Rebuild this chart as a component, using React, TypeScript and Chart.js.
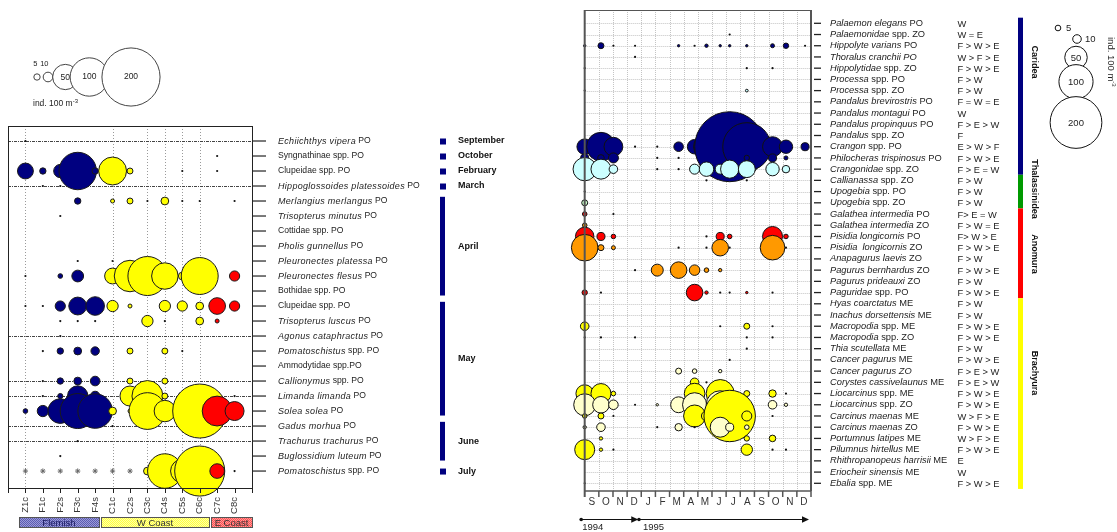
import { useEffect, useRef } from "react";
import { Chart, registerables } from "chart.js";

Chart.register(...registerables);

const FONT = '"Liberation Sans", Arial, sans-serif';
const INK = "#222";
const T = 0.3; // trace catch, drawn as a dot

// ---------- Fish larvae per station ----------
const stations = ["Z1c", "F1c", "F2s", "F3c", "F4s", "C1c", "C2s", "C3c", "C4s", "C5s", "C6c", "C7c", "C8c"];
const stationCoast = ["F", "F", "F", "F", "F", "W", "W", "W", "W", "W", "W", "E", "E"];
const coastColors: Record<string, string> = { F: "#000080", W: "#FFFF00", E: "#FF0000" };
const coastCodes = ["F", "W", "E"];
const coastNames = ["Flemish", "W Coast", "E Coast"];

const fishTaxa: [string, string][] = [
  ["Echiichthys vipera", " PO"],
  ["", "Syngnathinae spp. PO"],
  ["", "Clupeidae spp. PO"],
  ["Hippoglossoides platessoides", " PO"],
  ["Merlangius merlangus", " PO"],
  ["Trisopterus minutus", " PO"],
  ["", "Cottidae spp. PO"],
  ["Pholis gunnellus", " PO"],
  ["Pleuronectes platessa", " PO"],
  ["Pleuronectes flesus", " PO"],
  ["", "Bothidae spp. PO"],
  ["", "Clupeidae spp. PO"],
  ["Trisopterus luscus", " PO"],
  ["Agonus cataphractus", " PO"],
  ["Pomatoschistus", " spp. PO"],
  ["", "Ammodytidae spp.PO"],
  ["Callionymus", " spp. PO"],
  ["Limanda limanda", " PO"],
  ["Solea solea", " PO"],
  ["Gadus morhua", " PO"],
  ["Trachurus trachurus", " PO"],
  ["Buglossidium luteum", " PO"],
  ["Pomatoschistus", " spp. PO"],
];

// ind. 100 m-3, one value per station (Z1c ... C8c)
const fishAbundance: number[][] = [
  [T, 0, 0, 0, 0, 0, 0, 0, 0, 0, 0, 0, 0],
  [0, 0, 0, 0, 0, 0, 0, 0, 0, 0, 0, T, 0],
  [23, 5, 17, 96, 5, 59, 4.5, 0, 0, T, 0, T, 0],
  [0, T, T, 0, 0, 0, 0, 0, 0, 0, 0, 0, 0],
  [0, 0, 0, 5, 0, 2.3, 4.5, T, 7, T, T, 0, T],
  [0, 0, T, 0, 0, 0, 0, 0, 0, 0, 0, 0, 0],
  [0, 0, 0, 0, 0, 0, 0, 0, 0, 0, 0, 0, 0],
  [0, 0, 0, 0, 0, 0, 0, 0, 0, 0, 0, 0, 0],
  [0, 0, 0, T, 0, T, 0, 0, 0, 0, T, 0, 0],
  [T, 0, 3, 14, 0, 23, 72, 103, 54, 7, 94, 0, 11],
  [0, 0, 0, 0, 0, 0, 0, 0, 0, 0, 0, 0, 0],
  [T, T, 11, 28, 30, 13, 2.3, 0, 13, 11, 7, 25, 11],
  [0, 0, T, T, T, 0, 0, 13, T, 0, 7, 2.3, 0],
  [0, 0, T, 0, 0, 0, 0, 0, 0, 0, 0, 0, 0],
  [0, T, 5, 7, 8, 0, 4.5, 0, 4.5, T, 0, 0, 0],
  [0, 0, 0, 0, 0, 0, 0, 0, 0, 0, 0, 0, 0],
  [0, T, 5, 7, 10, 0, 4.5, 0, 4.5, 0, 0, 0, 0],
  [0, T, 3.5, 35, 10, 0, 34, 70, 4.5, 7, 4.5, 0, T],
  [3, 13, 48, 86, 84, 7, 2.3, 93, 38, 13, 177, 66, 31],
  [0, 0, 0, 0, 0, T, 0, 0, 0, 0, 0, 0, 0],
  [0, 0, 0, T, 0, 0, 0, 0, 0, 0, 0, 0, 0],
  [0, 0, T, 0, 0, 0, 0, 0, 0, 0, 0, 0, 0],
  [0, 0, 0, 0, 0, 0, 0, 7, 84, 44, 156, 20, T],
];
const fishUnsampledRow = 23;
const fishUnsampledStations = ["Z1c", "F1c", "F2s", "F3c", "F4s", "C1c", "C2s"];

const fishMonthNames = ["September", "October", "February", "March", "April", "May", "June", "July"];
const fishMonthFirstRow = [1, 2, 3, 4, 5, 12, 20, 23];
const fishMonthLastRow = [1, 2, 3, 4, 11, 19, 22, 23];
const fishDividerRows = [1, 4, 14, 17, 18, 20, 21];
const fishGridStations = ["Z1c", "C1c", "C3c", "C4s", "C5s", "C6c"];

// ---------- Decapod larvae through time ----------
// sampling dates in months since 1 September 1994
const sampleMonths = [0, 1.15, 2.03, 3.56, 5.13, 6.64, 7.77, 8.61, 9.58, 10.25, 11.46, 13.28, 14.23, 15.58];
const monthLetters = ["S", "O", "N", "D", "J", "F", "M", "A", "M", "J", "J", "A", "S", "O", "N", "D"];
const years = ["1994", "1995"];
const yearStartMonth = [0, 4];
const yearEndMonth = [4, 16];

const decapodTaxa: [string, string][] = [
  ["Palaemon elegans", " PO"],
  ["Palaemonidae", " spp. ZO"],
  ["Hippolyte varians", " PO"],
  ["Thoralus cranchii PO", ""],
  ["Hippolytidae", " spp. ZO"],
  ["Processa", " spp. PO"],
  ["Processa", " spp. ZO"],
  ["Pandalus brevirostris", " PO"],
  ["Pandalus montagui", " PO"],
  ["Pandalus propinquus", " PO"],
  ["Pandalus", " spp. ZO"],
  ["Crangon", " spp. PO"],
  ["Philocheras trispinosus", " PO"],
  ["Crangonidae", " spp. ZO"],
  ["Callianassa", " spp. ZO"],
  ["Upogebia", " spp. PO"],
  ["Upogebia", " spp. ZO"],
  ["Galathea intermedia", " PO"],
  ["Galathea intermedia", " ZO"],
  ["Pisidia longicornis", " PO"],
  ["Pisidia  longicornis", " ZO"],
  ["Anapagurus laevis", " ZO"],
  ["Pagurus bernhardus", " ZO"],
  ["Pagurus prideauxi", " ZO"],
  ["Paguridae", " spp. PO"],
  ["Hyas coarctatus", " ME"],
  ["Inachus dorsettensis", " ME"],
  ["Macropodia", " spp. ME"],
  ["Macropodia", " spp. ZO"],
  ["Thia scutellata", " ME"],
  ["Cancer pagurus", " ME"],
  ["Cancer pagurus ZO", ""],
  ["Corystes cassivelaunus", " ME"],
  ["Liocarcinus", " spp. ME"],
  ["Liocarcinus", " spp. ZO"],
  ["Carcinus maenas", " ME"],
  ["Carcinus maenas", " ZO"],
  ["Portumnus latipes", " ME"],
  ["Pilumnus hirtellus", " ME"],
  ["Rhithropanopeus harrisii", " ME"],
  ["Eriocheir sinensis", " ME"],
  ["Ebalia", " spp. ME"],
];
const decapodRanking = [
  "W", "W = E", "F > W > E", "W > F > E", "F > W > E", "F > W", "F > W", "F = W = E", "W", "F > E > W",
  "F", "E > W > F", "F > W > E", "F > E = W", "F > W", "F > W", "F > W", "F> E = W", "F > W = E", "F> W > E",
  "F > W > E", "F > W", "F > W > E", "F > W", "F > W > E", "F > W", "F > W", "F > W > E", "F > W > E", "F > W",
  "F > W > E", "F > E > W", "F > E > W", "F > W > E", "F > W > E", "W > F > E", "F > W > E", "W > F > E", "F > W > E", "E",
  "W", "F > W > E",
];

// ind. 100 m-3, one value per sampling date
const decapodAbundance: number[][] = [
  [0, 0, 0, 0, 0, 0, 0, 0, 0, 0, 0, 0, 0, 0],
  [0, 0, 0, 0, 0, 0, 0, 0, 0, T, 0, 0, 0, 0],
  [1.2, 5.5, T, T, 0, 1.2, T, 2.1, 1.2, 1.2, 1.2, 2.8, 4.6, T],
  [0, 0, 0, T, 0, 0, 0, 0, 0, 0, 0, 0, 0, 0],
  [T, 0, 0, 0, 0, 0, 0, 0, 0, 0, T, T, 0, 0],
  [0, 0, 0, 0, 0, 0, 0, 0, 0, 0, 0, 0, 0, 0],
  [T, 0, 0, 0, 0, 0, 0, 0, 0, 0, 1.5, 0, 0, 0],
  [0, 0, 0, 0, 0, 0, 0, 0, 0, 0, 0, 0, 0, 0],
  [0, 0, 0, 0, 0, 0, 0, 0, 0, 0, 0, 0, 0, 0],
  [0, 0, 0, 0, 0, 0, 0, 0, 0, 0, 0, 0, 0, 0],
  [0, 0, 0, 0, 0, 0, 0, 0, 0, 0, 0, 0, 0, 0],
  [27, 75, 37, T, T, 12, 24, 63, 130, 331, 177, 41, 21, 9],
  [9, 6.5, 13, 0, T, T, 0, 0, 0, 0, 4.6, 9, 2.8, 0],
  [53, 41, 10, 0, T, T, 13, 24, 13, 35, 31, 21, 8, 0],
  [0, 0, 0, 0, 0, 0, 0, T, 0, 0, T, 0, 0, 0],
  [T, 0, 0, 0, 0, 0, 0, 0, 0, 0, 0, 0, 0, 0],
  [5.5, 0, 0, 0, 0, 0, 0, 0, 0, 0, 0, 0, 0, 0],
  [3.5, 0, T, 0, 0, 0, 0, 0, 0, 0, 0, 0, 0, 0],
  [3.5, 0, 0, 0, 0, 0, 0, 0, 0, 0, 0, 0, 0, 0],
  [36, 9, 3.5, 0, 0, 0, 0, T, 9, 3.5, 0, 41, 3.5, 0],
  [66, 5.5, 2.8, 0, 0, T, 0, T, 30, T, 0, 58, T, 0],
  [0, 0, 0, 0, 0, 0, 0, 0, 0, 0, 0, 0, 0, 0],
  [0, 0, 0, T, 17.5, 30, 14, 3.5, 2.1, 0, 0, 0, 0, 0],
  [0, 0, 0, 0, 0, 0, 0, 0, 0, 0, 0, 0, 0, 0],
  [4.6, T, 0, 0, 0, 0, 30, 2.1, T, T, 1.2, T, 0, 0],
  [0, 0, 0, 0, 0, 0, 0, 0, 0, 0, 0, 0, 0, 0],
  [0, 0, 0, 0, 0, 0, 0, 0, 0, 0, 0, 0, 0, 0],
  [10, 0, 0, 0, 0, 0, 0, 0, T, 0, 5.5, T, 0, 0],
  [T, T, 0, T, 0, 0, 0, 0, 0, 0, T, T, 0, 0],
  [0, 0, 0, 0, 0, 0, 0, 0, 0, 0, T, 0, 0, 0],
  [0, 0, 0, 0, 0, 0, 0, 0, 0, T, 0, 0, 0, 0],
  [0, 0, 0, 0, 0, 5.5, 3.5, 0, 2.1, 0, 0, 0, 0, 0],
  [0, 0, 0, 0, 0, 0, 10, T, 0, 0, 0, 0, 0, 0],
  [33, 41, 3.5, 0, 0, 0, 43, 0, 72, 0, 5.5, 7.8, T, 0],
  [48, 30, 12, T, 1.2, 28, 56, 0, 72, 0, 0, 10, 2.1, 0],
  [3.5, 5.5, T, 0, 0, 0, 48, 13, 0, 198, 13, T, 0, 0],
  [2.1, 10, 0, 0, T, 7.8, T, 0, 41, 9, 3.5, 0, 0, 0],
  [0, 2.1, 0, 0, 0, 0, 0, 0, 0, 0, 4.6, 6.5, 0, 0],
  [41, 2.1, T, 0, 0, 0, 0, 0, 0, 0, 16, T, T, 0],
  [0, 0, 0, 0, 0, 0, 0, 0, 0, 0, 0, 0, 0, 0],
  [0, 0, 0, 0, 0, 0, 0, 0, 0, 0, 0, 0, 0, 0],
  [T, 0, 0, 0, 0, 0, 0, 0, 0, 0, 0, 0, 0, 0],
];

const infraorders = ["Caridea", "Thalassinidea", "Anomura", "Brachyura"];
const infraorderFirstRow = [1, 15, 18, 26];
const infraorderLastRow = [14, 17, 25, 42];
const infraorderColors = ["#000080", "#009900", "#FF0000", "#FFFF00"];
// larval stage colours per infraorder
const stageColors: Record<string, Record<string, string>> = {
  Caridea: { PO: "#000080", ZO: "#CCFFFF", ME: "#000080" },
  Thalassinidea: { PO: "#CCFFCC", ZO: "#CCFFCC", ME: "#CCFFCC" },
  Anomura: { PO: "#FF0000", ZO: "#FF9900", ME: "#FF0000" },
  Brachyura: { PO: "#FFFF00", ZO: "#FFFFCC", ME: "#FFFF00" },
};

const legendSizes = [5, 10, 50, 100, 200];

// ---------- helpers ----------
const FISH_K = 1.21;
const DECA_K = 1.077;
const bubbleRadius = (v: number, k: number) => (v < 1 ? 1.1 : k * Math.pow(v, 0.6));

function richText(
  ctx: CanvasRenderingContext2D,
  x: number,
  y: number,
  italic: string,
  plain: string,
  size: number,
  plainSize = size,
  spacing = "0px"
) {
  const c = ctx as any;
  c.letterSpacing = spacing;
  ctx.font = `italic ${size}px ${FONT}`;
  ctx.fillText(italic, x, y);
  const w = italic ? ctx.measureText(italic).width : 0;
  c.letterSpacing = "0px";
  ctx.font = `${plainSize}px ${FONT}`;
  ctx.fillText(plain, x + w, y);
}

function hatch(ctx: CanvasRenderingContext2D, a: string, b: string) {
  const c = document.createElement("canvas");
  c.width = 2;
  c.height = 2;
  const g = c.getContext("2d")!;
  g.fillStyle = a;
  g.fillRect(0, 0, 2, 2);
  g.fillStyle = b;
  g.fillRect(0, 0, 1, 1);
  g.fillRect(1, 1, 1, 1);
  return ctx.createPattern(c, "repeat")!;
}

function hLine(ctx: CanvasRenderingContext2D, x1: number, x2: number, y: number) {
  ctx.beginPath();
  ctx.moveTo(x1, y);
  ctx.lineTo(x2, y);
  ctx.stroke();
}
function vLine(ctx: CanvasRenderingContext2D, x: number, y1: number, y2: number) {
  ctx.beginPath();
  ctx.moveTo(x, y1);
  ctx.lineTo(x, y2);
  ctx.stroke();
}

type Pt = { x: number; y: number; r?: number; v: number; color: string };

const pointColor = (c: any) => (c.raw ? (c.raw.v < 1 ? "#111" : c.raw.color) : "#000");
const pointBorder = (c: any) => (c.raw && c.raw.v < 1 ? 0 : 1);

// ---------- fish panel decoration ----------
const fishDecor = {
  id: "fishDecor",
  beforeDatasetsDraw(chart: any) {
    const { ctx, chartArea: a, scales } = chart;
    const xs = scales.x, ys = scales.y;
    ctx.save();
    ctx.strokeStyle = "#9a9a9a";
    ctx.lineWidth = 1;
    ctx.setLineDash([1, 2]);
    fishGridStations.forEach((s) => {
      const x = Math.round(xs.getPixelForValue(stations.indexOf(s) + 1)) + 0.5;
      vLine(ctx, x, a.top, a.bottom);
    });
    ctx.strokeStyle = "#444";
    ctx.setLineDash([3, 1, 1, 1]);
    fishDividerRows.forEach((r) => {
      const y = Math.round(ys.getPixelForValue(r)) + 0.5;
      hLine(ctx, a.left, a.right, y);
    });
    ctx.restore();
  },
  afterDatasetsDraw(chart: any) {
    const { ctx, chartArea: a, scales } = chart;
    const xs = scales.x, ys = scales.y;
    ctx.save();
    // frame
    ctx.strokeStyle = "#222";
    ctx.lineWidth = 1;
    ctx.strokeRect(Math.round(a.left) + 0.5, Math.round(a.top) + 0.5, Math.round(a.right - a.left), Math.round(a.bottom - a.top));
    // row ticks and taxon names
    ctx.lineWidth = 1.2;
    ctx.fillStyle = INK;
    ctx.textBaseline = "middle";
    ctx.textAlign = "left";
    fishTaxa.forEach(([it, pl], i) => {
      const y = ys.getPixelForValue(i + 1);
      hLine(ctx, a.right + 1, a.right + 14, y);
      richText(ctx, 278, y, it, pl, 9, 8.6, "0.3px");
    });
    // station ticks and labels
    ctx.lineWidth = 1;
    for (let k = 0; k <= stations.length + 1; k++) {
      const x = Math.round(xs.getPixelForValue(k)) + 0.5;
      vLine(ctx, x, a.bottom, a.bottom + 5);
    }
    ctx.font = `9.5px ${FONT}`;
    ctx.fillStyle = "#333";
    stations.forEach((s, j) => {
      const x = xs.getPixelForValue(j + 1);
      ctx.save();
      ctx.translate(x, a.bottom + 9);
      ctx.rotate(-Math.PI / 2);
      ctx.textAlign = "right";
      ctx.textBaseline = "middle";
      ctx.fillText(s, 0, 0);
      ctx.restore();
    });
    // coast boxes (span in station units)
    const boxFrom = [0.63, 5.34, 11.65];
    const boxTo = [5.22, 11.53, 14];
    const coastFill: CanvasPattern[] = [
      hatch(ctx, "#9a9ad8", "#5c5cb0"),
      hatch(ctx, "#ffffa8", "#ffff40"),
      hatch(ctx, "#ff9a9a", "#ff5050"),
    ];
    coastCodes.forEach((_, n) => {
      const x1 = xs.getPixelForValue(boxFrom[n]);
      const x2 = xs.getPixelForValue(boxTo[n]);
      const y1 = 517, y2 = 527;
      ctx.fillStyle = coastFill[n];
      ctx.fillRect(x1, y1, x2 - x1, y2 - y1);
      ctx.strokeStyle = "#555";
      ctx.lineWidth = 1;
      ctx.strokeRect(Math.round(x1) + 0.5, y1 + 0.5, Math.round(x2 - x1), y2 - y1);
      ctx.fillStyle = n === 0 ? "#1a1a60" : "#333";
      ctx.font = `9.5px ${FONT}`;
      ctx.textAlign = "center";
      ctx.textBaseline = "middle";
      ctx.fillText(coastNames[n], (x1 + x2) / 2, (y1 + y2) / 2 + 1);
    });
    // sampling months
    ctx.textAlign = "left";
    fishMonthNames.forEach((m, i) => {
      const r1 = fishMonthFirstRow[i], r2 = fishMonthLastRow[i];
      ctx.fillStyle = "#000080";
      if (r1 === r2) {
        const y = ys.getPixelForValue(r1);
        ctx.fillRect(440, y - 2.5, 6, 6);
      } else {
        const y1 = ys.getPixelForValue(r1 - 0.28);
        const y2 = ys.getPixelForValue(r2 + 0.3);
        ctx.fillRect(440, y1, 5, y2 - y1);
      }
      ctx.fillStyle = "#111";
      ctx.font = `bold 9px ${FONT}`;
      ctx.fillText(m, 458, ys.getPixelForValue((r1 + r2) / 2));
    });
    // abundance legend
    const cx = [37, 48, 65.3, 89.3, 131];
    ctx.strokeStyle = "#444";
    ctx.lineWidth = 1;
    legendSizes.forEach((v, i) => {
      ctx.beginPath();
      ctx.arc(cx[i], 77, bubbleRadius(v, FISH_K), 0, Math.PI * 2);
      ctx.fillStyle = "#fff";
      ctx.fill();
      ctx.stroke();
    });
    ctx.fillStyle = INK;
    ctx.textAlign = "center";
    ctx.textBaseline = "middle";
    ctx.font = `7.5px ${FONT}`;
    ctx.fillText("5", 35.3, 64);
    ctx.fillText("10", 44.3, 64);
    ctx.font = `8.5px ${FONT}`;
    ctx.fillText("50", 65.3, 78);
    ctx.fillText("100", 89.3, 77);
    ctx.fillText("200", 131, 77);
    ctx.textAlign = "left";
    ctx.fillText("ind. 100 m", 33, 104);
    const w = ctx.measureText("ind. 100 m").width;
    ctx.font = `6px ${FONT}`;
    ctx.fillText("-3", 33 + w, 101);
    ctx.restore();
  },
};

// ---------- decapod panel decoration ----------
const decapodDecor = {
  id: "decapodDecor",
  beforeDatasetsDraw(chart: any) {
    const { ctx, chartArea: a, scales } = chart;
    const xs = scales.x, ys = scales.y;
    ctx.save();
    ctx.strokeStyle = "#c4c4c4";
    ctx.lineWidth = 1;
    ctx.setLineDash([1, 1]);
    for (let m = 1; m < monthLetters.length; m++) {
      vLine(ctx, Math.round(xs.getPixelForValue(m)) + 0.5, a.top, a.bottom);
    }
    decapodTaxa.forEach((_, i) => {
      hLine(ctx, a.left, a.right, Math.round(ys.getPixelForValue(i + 1)) + 0.5);
    });
    ctx.restore();
  },
  afterDatasetsDraw(chart: any) {
    const { ctx, chartArea: a, scales } = chart;
    const xs = scales.x, ys = scales.y;
    ctx.save();
    // frame
    ctx.strokeStyle = "#555";
    ctx.lineWidth = 1;
    hLine(ctx, a.left, a.right, Math.round(a.top) + 0.5);
    ctx.lineWidth = 1.5;
    hLine(ctx, a.left, a.right, a.bottom);
    ctx.lineWidth = 2;
    vLine(ctx, a.left, a.top, a.bottom + 6);
    vLine(ctx, a.right, a.top, a.bottom);
    // month ticks and letters
    ctx.lineWidth = 1.5;
    for (let m = 1; m <= monthLetters.length; m++) {
      vLine(ctx, xs.getPixelForValue(m), a.bottom, a.bottom + 6);
    }
    ctx.fillStyle = "#333";
    ctx.font = `10px ${FONT}`;
    ctx.textAlign = "center";
    ctx.textBaseline = "middle";
    monthLetters.forEach((l, m) => ctx.fillText(l, xs.getPixelForValue(m + 0.5), a.bottom + 11));
    // year arrows
    ctx.strokeStyle = "#111";
    ctx.fillStyle = "#111";
    ctx.lineWidth = 1.2;
    years.forEach((yr, i) => {
      const x1 = xs.getPixelForValue(yearStartMonth[i]) - (i === 0 ? 3.5 : 2.3);
      const x2 = xs.getPixelForValue(yearEndMonth[i]) - (i === 0 ? 4 : 3);
      const y = 519.5;
      hLine(ctx, x1, x2 - 3, y);
      ctx.beginPath();
      ctx.arc(x1, y, 1.8, 0, Math.PI * 2);
      ctx.fill();
      ctx.beginPath();
      ctx.moveTo(x2 + 1, y);
      ctx.lineTo(x2 - 6, y - 3.2);
      ctx.lineTo(x2 - 6, y + 3.2);
      ctx.closePath();
      ctx.fill();
      ctx.font = `9.5px ${FONT}`;
      ctx.textAlign = "left";
      ctx.fillStyle = "#222";
      ctx.fillText(yr, x1 + (i === 0 ? 1 : 4), 527);
      ctx.fillStyle = "#111";
    });
    // row ticks, taxon names and regional ranking
    ctx.strokeStyle = "#222";
    ctx.lineWidth = 1.3;
    ctx.fillStyle = INK;
    ctx.textAlign = "left";
    ctx.textBaseline = "middle";
    decapodTaxa.forEach(([it, pl], i) => {
      const y = ys.getPixelForValue(i + 1);
      hLine(ctx, a.right + 3, a.right + 10, y);
      richText(ctx, 830, y, it, pl, 9.3);
      ctx.font = `9.3px ${FONT}`;
      ctx.fillText(decapodRanking[i], 957.5, y + 1);
    });
    // infraorder bars and names
    const nameRows = [4.45, 15.77, 21.56, 32.17];
    infraorders.forEach((name, g) => {
      const y1 = ys.getPixelForValue(infraorderFirstRow[g] - 0.5);
      const y2 = ys.getPixelForValue(infraorderLastRow[g] + 0.5);
      ctx.fillStyle = infraorderColors[g];
      ctx.fillRect(1018, y1, 5, y2 - y1);
      ctx.save();
      ctx.translate(1034, ys.getPixelForValue(nameRows[g]));
      ctx.rotate(Math.PI / 2);
      ctx.fillStyle = "#111";
      ctx.font = `bold 9px ${FONT}`;
      ctx.textAlign = "center";
      ctx.textBaseline = "middle";
      ctx.fillText(name, 0, 0);
      ctx.restore();
    });
    // abundance legend
    const lx = [1058, 1077, 1076, 1076, 1076];
    const ly = [28, 39, 57.5, 81.7, 122.5];
    ctx.strokeStyle = "#111";
    ctx.lineWidth = 1;
    legendSizes.forEach((v, i) => {
      ctx.beginPath();
      ctx.arc(lx[i], ly[i], bubbleRadius(v, DECA_K), 0, Math.PI * 2);
      ctx.fillStyle = "#fff";
      ctx.fill();
      ctx.stroke();
    });
    ctx.fillStyle = INK;
    ctx.font = `9.5px ${FONT}`;
    ctx.textBaseline = "middle";
    ctx.textAlign = "left";
    ctx.fillText("5", 1066, 28);
    ctx.fillText("10", 1085, 39);
    ctx.textAlign = "center";
    ctx.fillText("50", 1076, 58);
    ctx.fillText("100", 1076, 82);
    ctx.fillText("200", 1076, 123);
    ctx.save();
    ctx.translate(1111, 37);
    ctx.rotate(Math.PI / 2);
    ctx.textAlign = "left";
    ctx.font = `9.5px ${FONT}`;
    ctx.fillText("ind. 100 m", 0, 0);
    const w = ctx.measureText("ind. 100 m").width;
    ctx.font = `6px ${FONT}`;
    ctx.fillText("-3", w, -3);
    ctx.restore();
    ctx.restore();
  },
};

export default function App() {
  const fishRef = useRef<HTMLCanvasElement>(null);
  const decaRef = useRef<HTMLCanvasElement>(null);

  useEffect(() => {
    const W = 1117, H = 532;

    const fishPoints: Pt[] = [];
    fishAbundance.forEach((row, i) =>
      row.forEach((v, j) => {
        if (v > 0) fishPoints.push({ x: j + 1, y: i + 1, r: bubbleRadius(v, FISH_K), v, color: coastColors[stationCoast[j]] });
      })
    );
    const unsampled = fishUnsampledStations.map((s) => ({ x: stations.indexOf(s) + 1, y: fishUnsampledRow }));

    const decaPoints: Pt[] = [];
    decapodAbundance.forEach((row, i) => {
      const g = infraorderFirstRow.filter((f) => f <= i + 1).length - 1;
      const label = decapodTaxa[i].join("").trim();
      const stage = label.slice(-2);
      const color = stageColors[infraorders[g]][stage] || "#888";
      row.forEach((v, j) => {
        if (v > 0) decaPoints.push({ x: sampleMonths[j], y: i + 1, r: bubbleRadius(v, DECA_K), v, color });
      });
    });

    const common = {
      responsive: false,
      maintainAspectRatio: false,
      animation: false as const,
      events: [] as any[],
      plugins: { legend: { display: false }, tooltip: { enabled: false } },
    };

    const fish = new Chart(fishRef.current!, {
      type: "bubble",
      data: {
        datasets: [
          { data: fishPoints as any, backgroundColor: pointColor, borderColor: "#1a1a1a", borderWidth: pointBorder, clip: false } as any,
          { data: unsampled as any, pointStyle: "star", radius: 2.6, borderColor: "#666", backgroundColor: "#666", borderWidth: 1, clip: false } as any,
        ],
      },
      options: {
        ...common,
        layout: { autoPadding: false, padding: { left: 8, top: 126, right: W - 252, bottom: H - 488 } },
        scales: {
          x: { type: "linear", min: 0, max: stations.length + 1, display: false },
          y: { type: "linear", min: 0, max: 24.13, reverse: true, display: false },
        },
      } as any,
      plugins: [fishDecor],
    });

    const deca = new Chart(decaRef.current!, {
      type: "bubble",
      data: {
        datasets: [
          { data: decaPoints as any, backgroundColor: pointColor, borderColor: "#111", borderWidth: pointBorder, clip: false } as any,
        ],
      },
      options: {
        ...common,
        layout: { autoPadding: false, padding: { left: 584.7, top: 10, right: W - 811, bottom: H - 491 } },
        scales: {
          x: { type: "linear", min: 0, max: monthLetters.length, display: false },
          y: { type: "linear", min: -0.185, max: 42.686, reverse: true, display: false },
        },
      } as any,
      plugins: [decapodDecor],
    });

    return () => {
      fish.destroy();
      deca.destroy();
    };
  }, []);

  return (
    <div style={{ position: "absolute", left: 0, top: 0, width: 1117, height: 532, background: "#fff" }}>
      <canvas ref={fishRef} width={1117} height={532} style={{ position: "absolute", left: 0, top: 0 }} />
      <canvas ref={decaRef} width={1117} height={532} style={{ position: "absolute", left: 0, top: 0 }} />
    </div>
  );
}
